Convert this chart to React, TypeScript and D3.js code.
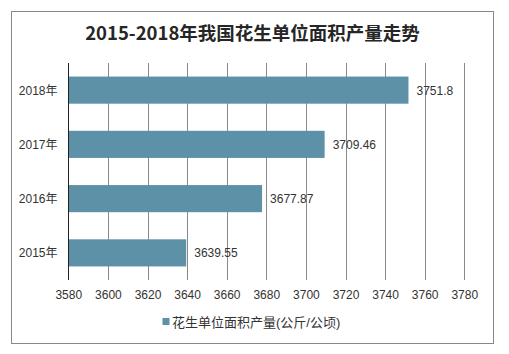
import React from "react";
import * as d3 from "d3";

const categories = ["2018年", "2017年", "2016年", "2015年"];
const values = [3751.8, 3709.46, 3677.87, 3639.55];
const valueLabels = ["3751.8", "3709.46", "3677.87", "3639.55"];
const xTicks = [3580, 3600, 3620, 3640, 3660, 3680, 3700, 3720, 3740, 3760, 3780];
const title = "2015-2018年我国花生单位面积产量走势";
const seriesName = "花生单位面积产量(公斤/公顷)";

const W = 509;
const H = 354;
const left = 68.3;
const right = 464.3;
const top = 63;
const bottom = 280;
const barColor = "#5d91a7";
const font = "'Liberation Sans', 'Noto Sans CJK SC', sans-serif";

export default function App() {
  const x = d3.scaleLinear().domain([3580, 3780]).range([left, right]);
  const y = d3.scaleBand().domain(categories).range([top, bottom]).paddingInner(0.5).paddingOuter(0.25);

  return (
    <svg width={W} height={H} style={{ position: "absolute", left: 0, top: 0, background: "#fff" }}>
      <rect x={0} y={0} width={W} height={H} fill="#fff" />
      <rect x={11.5} y={11.5} width={482} height={332} fill="#fff" stroke="#888" strokeWidth={1} />
      <text x={252.5} y={40} textAnchor="middle" fontSize={18.5} fontWeight="bold" fill="#262626"
        fontFamily="'Noto Sans CJK SC', sans-serif">{title}</text>
      {xTicks.map((t) => (
        <g key={t}>
          {t !== 3580 && (
            <line x1={Math.round(x(t)) + 0.5} x2={Math.round(x(t)) + 0.5} y1={top} y2={bottom} stroke="#8a8a8a" strokeWidth={1} />
          )}
          <text x={x(t) + 0.5} y={298.5} textAnchor="middle" fontSize={12} fill="#333" fontFamily={font}>{t}</text>
        </g>
      ))}
      {categories.map((c, i) => (
        <g key={c}>
          <rect x={x(3580)} y={y(c)!} width={x(values[i]) - x(3580)} height={y.bandwidth()} fill={barColor} />
          <text x={x(values[i]) + 8} y={y(c)! + y.bandwidth() / 2 + 4.5} fontSize={12} fill="#333" fontFamily={font}>{valueLabels[i]}</text>
          <text x={57.5} y={y(c)! + y.bandwidth() / 2 + 4.5} textAnchor="end" fontSize={12} fill="#333" fontFamily={font}>{c}</text>
        </g>
      ))}
      <line x1={Math.round(x(3580)) + 0.5} x2={Math.round(x(3580)) + 0.5} y1={top} y2={bottom} stroke="#222" strokeWidth={1} />
      <rect x={162.5} y={318} width={7} height={7} fill={barColor} />
      <text x={172} y={326.5} fontSize={13} fill="#333" fontFamily={font}>{seriesName}</text>
    </svg>
  );
}
